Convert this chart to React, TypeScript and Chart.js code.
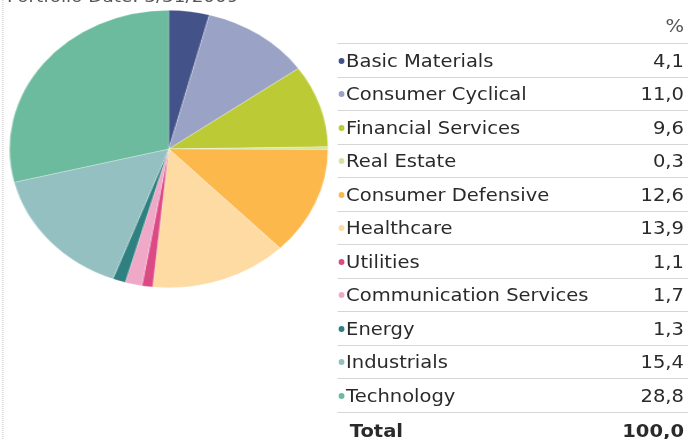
import React, { useEffect, useRef } from "react";
import { Chart, registerables } from "chart.js";

Chart.register(...registerables);

const dateLabel = "Portfolio Date: 3/31/2009";
const headerLabel = "%";
const sectors = [
  "Basic Materials",
  "Consumer Cyclical",
  "Financial Services",
  "Real Estate",
  "Consumer Defensive",
  "Healthcare",
  "Utilities",
  "Communication Services",
  "Energy",
  "Industrials",
  "Technology",
];
const weights = [4.1, 11.0, 9.6, 0.3, 12.6, 13.9, 1.1, 1.7, 1.3, 15.4, 28.8];
const sliceColors = [
  "#44528a",
  "#9aa3c5",
  "#bccb35",
  "#d6e2a3",
  "#fdb84c",
  "#fedba3",
  "#dc4a86",
  "#f0a8c8",
  "#2f8080",
  "#94c0c1",
  "#6cbb9e",
];
const totalLabel = "Total";
const totalValue = 100.0;

const fmt = (v: number) => v.toFixed(1).replace(".", ",");

const SX = 1.148;
const ROW_H = 33.5;
const FIRST_LINE = 43;
const TEXT_COLOR = "#2a2a2a";

export default function App() {
  const canvasRef = useRef<HTMLCanvasElement | null>(null);

  useEffect(() => {
    if (!canvasRef.current) return;
    const chart = new Chart(canvasRef.current, {
      type: "pie",
      data: {
        labels: sectors,
        datasets: [
          {
            data: weights,
            backgroundColor: sliceColors,
            borderColor: "rgba(255,255,255,0.45)",
            borderWidth: 0.6,
          },
        ],
      },
      options: {
        responsive: false,
        animation: false,
        layout: { padding: 0 },
        plugins: {
          legend: { display: false },
          tooltip: { enabled: false },
          title: { display: false },
        },
      },
    });
    return () => chart.destroy();
  }, []);

  const rows = sectors.map((s, i) => ({ label: s, value: weights[i], color: sliceColors[i] }));

  return (
    <div
      style={{
        position: "fixed",
        left: 0,
        top: 0,
        width: 688,
        height: 439,
        overflow: "hidden",
        background: "#fff",
        fontFamily: '"DejaVu Sans", Verdana, sans-serif',
        color: TEXT_COLOR,
      }}
    >
      <div
        style={{
          position: "absolute",
          left: 0,
          top: 0,
          width: 600,
          height: 439,
          transform: `scaleX(${SX})`,
          transformOrigin: "0 0",
        }}
      >
        <div
          style={{
            position: "absolute",
            left: 2,
            top: 0,
            height: 439,
            borderLeft: "1px dotted #c8c8c8",
          }}
        />
        <div
          style={{
            position: "absolute",
            left: 6,
            top: -13,
            fontSize: 16,
            color: "#555",
            whiteSpace: "nowrap",
          }}
        >
          {dateLabel}
        </div>
        <canvas
          ref={canvasRef}
          width={278}
          height={278}
          style={{ position: "absolute", left: 8, top: 9.5, width: 278, height: 278 }}
        />
        {/* header */}
        <div
          style={{
            position: "absolute",
            left: 293.6,
            right: 4.2,
            top: FIRST_LINE - ROW_H,
            height: ROW_H,
            display: "flex",
            alignItems: "center",
            justifyContent: "flex-end",
            fontSize: 17,
            color: "#555",
          }}
        >
          {headerLabel}
        </div>
        {rows.map((r, i) => (
          <React.Fragment key={r.label}>
            <div
              style={{
                position: "absolute",
                left: 293.6,
                right: 0,
                top: FIRST_LINE + i * ROW_H,
                height: 0,
                borderTop: "1px solid #d6d6d6",
              }}
            />
            <div
              style={{
                position: "absolute",
                left: 293.6,
                right: 4.2,
                top: FIRST_LINE + i * ROW_H + 1,
                height: ROW_H,
                display: "flex",
                alignItems: "center",
                fontSize: 17,
                whiteSpace: "nowrap",
              }}
            >
              <span
                style={{
                  display: "inline-block",
                  width: 5.4,
                  height: 6,
                  borderRadius: "50%",
                  background: r.color,
                  marginLeft: 1,
                  marginRight: 1.5,
                }}
              />
              <span style={{ flex: 1 }}>{r.label}</span>
              <span>{fmt(r.value)}</span>
            </div>
          </React.Fragment>
        ))}
        <div
          style={{
            position: "absolute",
            left: 293.6,
            right: 0,
            top: FIRST_LINE + sectors.length * ROW_H,
            height: 0,
            borderTop: "1px solid #d6d6d6",
          }}
        />
        <div
          style={{
            position: "absolute",
            left: 293.6,
            right: 4.2,
            top: FIRST_LINE + sectors.length * ROW_H + 3,
            height: ROW_H,
            display: "flex",
            alignItems: "center",
            fontSize: 17,
            fontWeight: "bold",
            whiteSpace: "nowrap",
          }}
        >
          <span style={{ flex: 1, paddingLeft: 11 }}>{totalLabel}</span>
          <span>{fmt(totalValue)}</span>
        </div>
      </div>
    </div>
  );
}
